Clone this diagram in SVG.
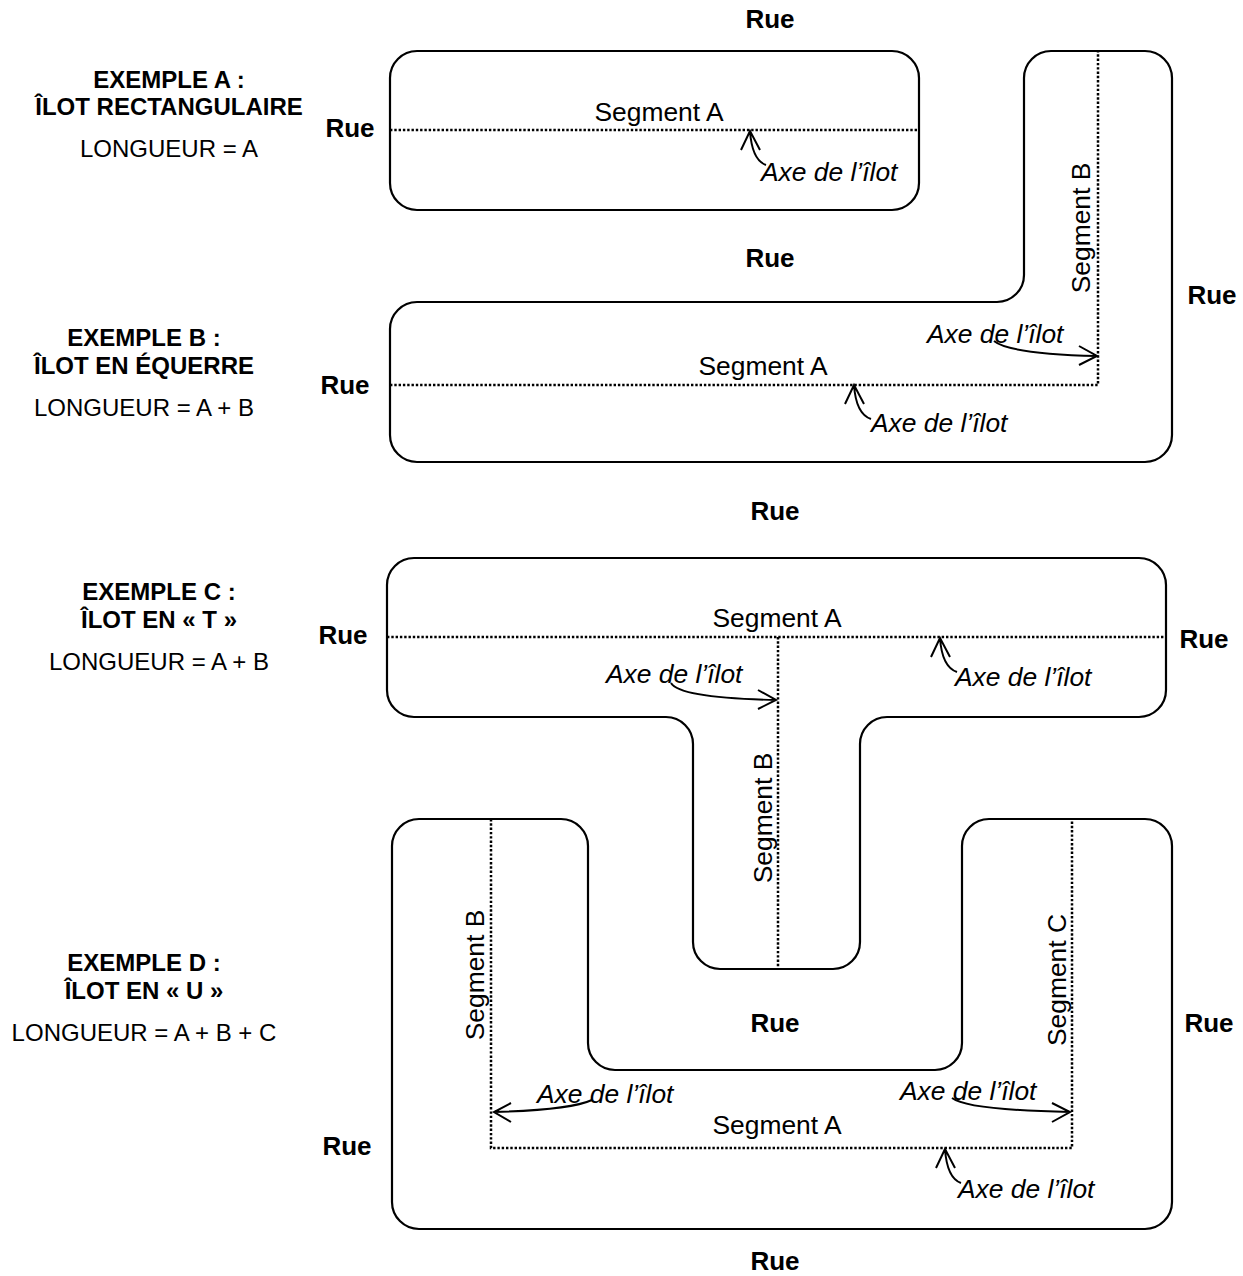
<svg xmlns="http://www.w3.org/2000/svg" width="1243" height="1276" viewBox="0 0 1243 1276">
<style>
text{font-family:"Liberation Sans",Arial,sans-serif;font-size:24px;fill:#000}
.b{font-weight:bold;text-anchor:middle}
.r{font-weight:bold;text-anchor:middle;font-size:26px}
.m{text-anchor:middle}
.s{text-anchor:middle;font-size:26.4px}
.i{font-style:italic;font-size:26.4px}
.o{fill:none;stroke:#000;stroke-width:2.2}
.d{fill:none;stroke:#000;stroke-width:2.5;stroke-dasharray:2.4 1.9}
.a{fill:none;stroke:#000;stroke-width:2}
</style>
<rect width="1243" height="1276" fill="#fff"/>
<g id="ilot-a"><rect class="o" x="390" y="51" width="529" height="159" rx="27"/></g>
<g id="ilot-b"><path class="o" d="M390 329A27 27 0 0 1 417 302H997A27 27 0 0 0 1024 275V78A27 27 0 0 1 1051 51H1145A27 27 0 0 1 1172 78V435A27 27 0 0 1 1145 462H417A27 27 0 0 1 390 435Z"/></g>
<g id="ilot-c"><path class="o" d="M387 585A27 27 0 0 1 414 558H1139A27 27 0 0 1 1166 585V690A27 27 0 0 1 1139 717H887A27 27 0 0 0 860 744V942A27 27 0 0 1 833 969H720A27 27 0 0 1 693 942V744A27 27 0 0 0 666 717H414A27 27 0 0 1 387 690Z"/></g>
<g id="ilot-d"><path class="o" d="M392 846A27 27 0 0 1 419 819H561A27 27 0 0 1 588 846V1043A27 27 0 0 0 615 1070H935A27 27 0 0 0 962 1043V846A27 27 0 0 1 989 819H1145A27 27 0 0 1 1172 846V1202A27 27 0 0 1 1145 1229H419A27 27 0 0 1 392 1202Z"/></g>
<g id="connectors">
<path class="d" d="M390 130H919"/>
<path class="d" d="M390 385H1098V51"/>
<path class="d" d="M387 637H1166M778 637V969"/>
<path class="d" d="M491 819V1148H1072V819"/>
<path class="a" d="M750 131Q752 160 766 165M741 150L750 131L760 150"/>
<path class="a" d="M854 385Q856 414 871 419M845 404L854 385L864 404"/>
<path class="a" d="M940 638Q942 667 957 672M931 657L940 638L950 657"/>
<path class="a" d="M945 1149Q947 1178 961 1183M936 1168L945 1149L955 1168"/>
<path class="a" d="M994 341Q1010 354 1097 356M1079 346L1097 356L1079 365"/>
<path class="a" d="M671 683Q680 698 776 700M758 690L776 700L758 709"/>
<path class="a" d="M592 1100Q570 1110 494 1112M511 1103L494 1112L511 1122"/>
<path class="a" d="M952 1098Q968 1110 1070 1112M1052 1103L1070 1112L1052 1122"/>
</g>
<g id="labels">
<text class="r" x="770" y="28">Rue</text>
<text class="r" x="350" y="137">Rue</text>
<text class="r" x="770" y="267">Rue</text>
<text class="r" x="345" y="394">Rue</text>
<text class="r" x="1212" y="304">Rue</text>
<text class="r" x="775" y="520">Rue</text>
<text class="r" x="343" y="644">Rue</text>
<text class="r" x="1204" y="648">Rue</text>
<text class="r" x="775" y="1032">Rue</text>
<text class="r" x="1209" y="1032">Rue</text>
<text class="r" x="347" y="1155">Rue</text>
<text class="r" x="775" y="1270">Rue</text>
<text class="b" x="169" y="88">EXEMPLE A :</text>
<text class="b" x="169" y="115">ÎLOT RECTANGULAIRE</text>
<text class="m" x="169" y="157">LONGUEUR = A</text>
<text class="b" x="144" y="346">EXEMPLE B :</text>
<text class="b" x="144" y="374">ÎLOT EN ÉQUERRE</text>
<text class="m" x="144" y="416">LONGUEUR = A + B</text>
<text class="b" x="159" y="600">EXEMPLE C :</text>
<text class="b" x="159" y="628">ÎLOT EN « T »</text>
<text class="m" x="159" y="670">LONGUEUR = A + B</text>
<text class="b" x="144" y="971">EXEMPLE D :</text>
<text class="b" x="144" y="999">ÎLOT EN « U »</text>
<text class="m" x="144" y="1041">LONGUEUR = A + B + C</text>
<text class="s" x="659" y="121">Segment A</text>
<text class="s" x="763" y="375">Segment A</text>
<text class="s" x="777" y="627">Segment A</text>
<text class="s" x="777" y="1134">Segment A</text>
<text class="s" transform="translate(1090 228) rotate(-90)">Segment B</text>
<text class="s" transform="translate(772 818) rotate(-90)">Segment B</text>
<text class="s" transform="translate(484 975) rotate(-90)">Segment B</text>
<text class="s" transform="translate(1066 980) rotate(-90)">Segment C</text>
<text class="i" x="761" y="181">Axe de l’îlot</text>
<text class="i" x="927" y="343">Axe de l’îlot</text>
<text class="i" x="871" y="432">Axe de l’îlot</text>
<text class="i" x="606" y="683">Axe de l’îlot</text>
<text class="i" x="955" y="686">Axe de l’îlot</text>
<text class="i" x="537" y="1103">Axe de l’îlot</text>
<text class="i" x="900" y="1100">Axe de l’îlot</text>
<text class="i" x="958" y="1198">Axe de l’îlot</text>
</g>
</svg>
